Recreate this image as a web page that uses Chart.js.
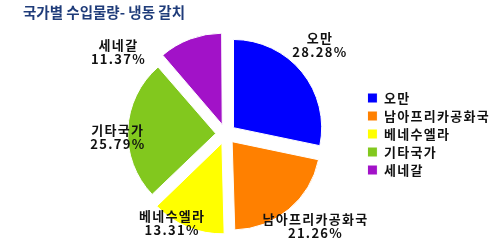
<!DOCTYPE html>
<html>
<head>
<meta charset="utf-8">
<script src="https://cdn.jsdelivr.net/npm/chart.js"></script>
<style>
  html, body { margin: 0; padding: 0; background: #fff; }
  #wrap { position: relative; width: 500px; height: 250px; }
  #title { position: absolute; left: 23px; top: 1px; font: bold 14.5px "Noto Sans CJK KR"; color: #1f3c7a; }
  canvas { position: absolute; left: 0; top: 0; }
</style>
</head>
<body>
<div id="wrap">
  <canvas id="myChart" width="500" height="250"></canvas>
  <div id="title">국가별 수입물량- 냉동 갈치</div>
</div>
<script>
const countries = ['오만', '남아프리카공화국', '베네수엘라', '기타국가', '세네갈'];
const shares = [28.28, 21.26, 13.31, 25.79, 11.37];
const sliceColors = ['#0000ff', '#ff8000', '#ffff00', '#82c81e', '#a212c8'];

// little nudges so the slice labels sit where the original has them
const labelShift = [[5, -16], [16, 4], [-10, -17], [7, 8], [-67, 26]];

// the original font is a bit wider, so spread the letters a little
const wideText = {
    id: 'wideText',
    beforeLayout(chart) { chart.ctx.letterSpacing = '1.3px'; },
    beforeDraw(chart) { chart.ctx.letterSpacing = '1.3px'; }
};

const pieLabels = {
    id: 'pieLabels',
    afterDatasetsDraw(chart) {
        const ctx = chart.ctx;
        const meta = chart.getDatasetMeta(0);
        ctx.save();
        ctx.font = 'bold 13px "Noto Sans CJK KR"';
        ctx.fillStyle = '#111';
        ctx.textAlign = 'center';
        ctx.textBaseline = 'middle';
        meta.data.forEach((arc, i) => {
            const p = arc.getProps(['x', 'y', 'startAngle', 'endAngle', 'outerRadius'], true);
            const mid = (p.startAngle + p.endAngle) / 2;
            const d = p.outerRadius + 27;
            const x = p.x + Math.cos(mid) * d + labelShift[i][0];
            const y = p.y + Math.sin(mid) * d + labelShift[i][1];
            ctx.fillText(countries[i], x, y - 7);
            ctx.fillText(shares[i].toFixed(2) + '%', x, y + 7);
        });
        ctx.restore();
    }
};

const ctx = document.getElementById('myChart').getContext('2d');
const myChart = new Chart(ctx, {
    type: 'pie',
    data: {
        labels: countries,
        datasets: [{
            data: shares,
            backgroundColor: sliceColors,
            borderColor: '#fff',
            borderWidth: 1,
            offset: 40
        }]
    },
    options: {
        responsive: false,
        animation: false,
        radius: 88,
        layout: {
            padding: { left: 89, right: 0, top: 28, bottom: 10 }
        },
        plugins: {
            legend: {
                position: 'right',
                labels: {
                    boxWidth: 10,
                    boxHeight: 10,
                    padding: 5,
                    color: '#111',
                    font: { family: '"Noto Sans CJK KR"', size: 13, weight: 'bold' }
                }
            },
            tooltip: { enabled: false }
        }
    },
    plugins: [wideText, pieLabels]
});
</script>
</body>
</html>
